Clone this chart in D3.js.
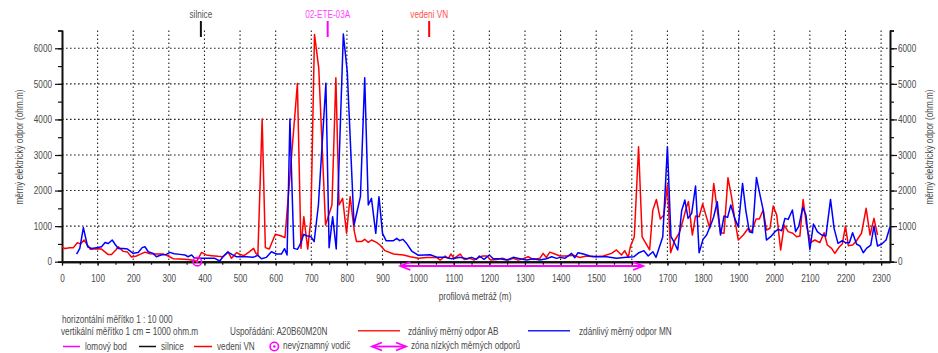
<!DOCTYPE html>
<html>
<head>
<meta charset="utf-8">
<script src="https://cdn.jsdelivr.net/npm/d3@7"></script>
<style>
  body { margin: 0; background: #fff; }
  text { font-family: 'Liberation Sans', Arial, sans-serif; }
</style>
</head>
<body>
<svg id="chart"></svg>
<script>
// zdánlivý měrný odpor AB (red) : [profilová metráž, ohm.m]
const abPoints = [[0,420],[8,370],[22,390],[32,395],[43,535],[52,500],[62,610],[69,500],[80,350],[102,365],[111,355],[130,200],[139,200],[151,330],[158,420],[172,290],[184,270],[195,130],[209,160],[219,205],[233,270],[247,225],[261,215],[284,215],[298,160],[312,85],[331,75],[354,65],[368,40],[378,10],[392,260],[405,190],[420,170],[438,150],[452,140],[466,280],[476,95],[490,255],[499,210],[511,170],[524,260],[538,375],[544,240],[550,190],[562,4010],[571,395],[582,355],[599,770],[614,730],[626,675],[661,5010],[671,375],[679,1265],[690,355],[699,1220],[709,6390],[721,5440],[740,1030],[758,1595],[769,5170],[778,1595],[788,1780],[799,800],[809,1830],[821,845],[827,565],[841,565],[850,630],[860,545],[869,610],[883,545],[893,470],[907,310],[931,215],[959,190],[978,140],[1001,95],[1024,120],[1052,120],[1062,45],[1076,160],[1085,95],[1092,215],[1101,95],[1118,215],[1129,65],[1146,95],[1157,45],[1170,120],[1181,160],[1193,160],[1204,45],[1221,65],[1237,95],[1253,45],[1267,95],[1281,45],[1295,85],[1309,140],[1323,65],[1342,95],[1351,235],[1360,120],[1370,270],[1384,215],[1398,160],[1417,160],[1436,180],[1454,120],[1473,160],[1492,140],[1520,160],[1543,235],[1557,330],[1571,190],[1580,310],[1590,120],[1596,425],[1607,700],[1619,3230],[1629,700],[1650,330],[1659,1450],[1669,1750],[1680,1200],[1690,1310],[1700,2160],[1709,250],[1721,610],[1733,800],[1744,1170],[1751,1450],[1759,1690],[1770,750],[1779,1285],[1789,1265],[1799,1620],[1808,1310],[1819,940],[1830,2200],[1840,1450],[1849,815],[1859,800],[1870,2360],[1880,1830],[1889,1200],[1899,610],[1913,750],[1927,940],[1936,845],[1949,1200],[1958,1200],[1969,1450],[1978,890],[1988,940],[1997,1565],[2007,1310],[2018,330],[2028,1030],[2039,845],[2052,800],[2063,700],[2072,720],[2081,1750],[2091,985],[2102,535],[2114,610],[2128,535],[2140,815],[2149,470],[2161,375],[2170,235],[2183,420],[2191,500],[2200,1000],[2208,450],[2220,470],[2231,590],[2245,800],[2258,1500],[2269,750],[2280,1220],[2290,750]];

// zdánlivý měrný odpor MN (blue)
const mnPoints = [[41,210],[50,375],[60,960],[72,420],[83,370],[97,395],[111,420],[121,540],[130,510],[141,610],[149,490],[158,370],[172,370],[184,355],[200,235],[214,260],[225,395],[233,420],[242,280],[256,234],[265,140],[278,190],[293,206],[303,262],[315,224],[331,206],[345,190],[354,140],[364,190],[371,112],[392,94],[410,94],[429,94],[443,19],[452,140],[466,270],[478,200],[490,140],[504,140],[518,140],[536,122],[550,178],[560,85],[574,122],[588,280],[602,216],[616,216],[625,366],[632,190],[640,4010],[651,375],[661,347],[668,470],[679,770],[687,730],[699,703],[708,563],[720,1594],[741,5016],[750,394],[760,1266],[770,356],[790,6400],[801,5344],[820,1031],[838,1828],[850,5175],[860,1594],[869,1781],[881,797],[890,1828],[900,797],[910,592],[931,592],[940,657],[948,592],[957,629],[966,535],[982,300],[1001,178],[1034,197],[1054,122],[1076,122],[1094,85],[1118,122],[1136,85],[1150,122],[1164,66],[1172,160],[1185,66],[1200,188],[1211,85],[1230,85],[1249,47],[1267,122],[1286,85],[1305,47],[1323,85],[1342,47],[1360,85],[1375,141],[1389,94],[1398,122],[1412,94],[1431,235],[1440,113],[1449,253],[1464,216],[1482,160],[1501,141],[1529,141],[1557,94],[1585,122],[1606,141],[1620,253],[1634,310],[1646,160],[1659,281],[1668,122],[1687,703],[1700,3230],[1710,703],[1718,562],[1729,328],[1740,1434],[1749,1733],[1758,1218],[1768,1359],[1779,2127],[1789,253],[1800,628],[1810,750],[1824,1096],[1830,1265],[1840,1687],[1849,750],[1859,1284],[1869,1246],[1878,1593],[1889,1218],[1899,984],[1911,2202],[1920,1452],[1930,843],[1939,815],[1950,2370],[1960,1874],[1969,1452],[1978,609],[1990,703],[2002,843],[2011,909],[2021,871],[2030,1218],[2039,1190],[2051,1452],[2060,843],[2069,1003],[2080,1527],[2089,1312],[2100,347],[2110,1059],[2121,843],[2133,750],[2145,721],[2158,1752],[2168,937],[2179,515],[2191,590],[2200,534],[2211,534],[2220,815],[2231,497],[2241,440],[2250,253],[2259,375],[2271,468],[2280,1003],[2290,440],[2302,497],[2314,609],[2325,984]];

const xMajorTicks = d3.range(0, 2301, 100);
const xMinorTicks = d3.range(0, 2326, 50);
const yMajorTicks = [0, 1000, 2000, 3000, 4000, 5000, 6000];
const yMinorTicks = d3.range(0, 6501, 500);

const markerLabels = ['silnice', '02-ETE-03A', 'vedeni VN'];
const markerAt = [390, 746, 1031];
const conductorAt = [380];
const lowZone = [950, 1632];

const xTitle = 'profilová metráž (m)';
const yTitle = 'měrný elektrický odpor (ohm.m)';

const W = 938, H = 353;
const margin = { top: 30.5, right: 48, bottom: 91.3, left: 62 };
const plotW = W - margin.left - margin.right;
const plotH = H - margin.top - margin.bottom;

const svg = d3.select('#chart').attr('width', W).attr('height', H);
svg.append('rect').attr('width', W).attr('height', H).attr('fill', '#fff');

const x = d3.scaleLinear().domain([0, 2325]).range([margin.left, margin.left + plotW]);
const y = d3.scaleLinear().domain([0, 6500]).range([margin.top + plotH, margin.top]);

const labelColor = '#4a4a4a';
const magenta = '#ff00ff';

// no narrow font installed -> squeeze Liberation Sans to Arial Narrow width
function narrow(sel) {
  sel.each(function () {
    const t = d3.select(this);
    const tx = +t.attr('x') || 0, ty = +t.attr('y') || 0;
    const prev = t.attr('transform') || '';
    t.attr('x', 0).attr('y', 0).attr('transform', `${prev} translate(${tx},${ty}) scale(0.82,1)`);
  });
}

// dotted grid
const grid = svg.append('g').attr('stroke', '#222').attr('stroke-width', 1.1).attr('stroke-dasharray', '1.6,2.4');
grid.selectAll('line.v').data(xMajorTicks.filter(d => d > 0)).join('line')
  .attr('x1', d => x(d)).attr('x2', d => x(d))
  .attr('y1', y(6500)).attr('y2', y(0));
grid.selectAll('line.h').data(yMajorTicks.filter(d => d > 0)).join('line')
  .attr('x1', x(0)).attr('x2', x(2325))
  .attr('y1', d => y(d)).attr('y2', d => y(d));

function styleAxis(g, width) {
  g.select('.domain').attr('stroke', '#111').attr('stroke-width', width);
  g.selectAll('.tick line').attr('stroke', '#111').attr('stroke-width', 1.2);
  g.selectAll('.tick text').attr('fill', labelColor).attr('font-size', 10)
    .attr('font-family', "'Liberation Sans',Arial,sans-serif").call(narrow);
}

// y axes
const yFmt = d3.format('d');
[['left', x(0), 3], ['right', x(2325), 1]].forEach(([side, px, pad]) => {
  const mk = side === 'left' ? d3.axisLeft : d3.axisRight;
  svg.append('g').attr('transform', `translate(${px},0)`)
    .call(mk(y).tickValues(yMinorTicks).tickSize(4).tickFormat(''))
    .call(g => styleAxis(g, 1.6));
  svg.append('g').attr('transform', `translate(${px},0)`)
    .call(mk(y).tickValues(yMajorTicks).tickSize(7).tickSizeOuter(0).tickPadding(pad).tickFormat(yFmt))
    .call(g => styleAxis(g, 1.6));
});

// x axis
svg.append('g').attr('transform', `translate(0,${y(0)})`)
  .call(d3.axisBottom(x).tickValues(xMinorTicks).tickSize(3).tickSizeOuter(0).tickFormat(''))
  .call(g => styleAxis(g, 2));
svg.append('g').attr('transform', `translate(0,${y(0)})`)
  .call(d3.axisBottom(x).tickValues(xMajorTicks).tickSize(4).tickSizeOuter(0).tickPadding(9).tickFormat(yFmt))
  .call(g => styleAxis(g, 2));

// axis titles
svg.append('text').attr('x', 475).attr('y', 297).attr('text-anchor', 'middle')
  .attr('dominant-baseline', 'central').attr('font-size', 10).attr('fill', labelColor).text(xTitle).call(narrow);
[20, 930].forEach(px => {
  svg.append('text').attr('transform', `translate(${px},147) rotate(-90)`)
    .attr('text-anchor', 'middle').attr('dominant-baseline', 'central')
    .attr('font-size', 10).attr('fill', labelColor).text(yTitle).call(narrow);
});

// series
const line = d3.line().x(d => x(d[0])).y(d => y(d[1]));
svg.append('path').datum(abPoints).attr('d', line)
  .attr('fill', 'none').attr('stroke', '#ff0000').attr('stroke-width', 1.5).attr('stroke-linejoin', 'round');
svg.append('path').datum(mnPoints).attr('d', line)
  .attr('fill', 'none').attr('stroke', '#0000ff').attr('stroke-width', 1.5).attr('stroke-linejoin', 'round');

// top markers
const markerStroke = ['#111', magenta, '#ff0000'];
const markerText = ['#555', '#ff44ff', '#ff5050'];
markerLabels.forEach((lab, i) => {
  svg.append('text').attr('x', x(markerAt[i])).attr('y', 15).attr('text-anchor', 'middle')
    .attr('dominant-baseline', 'central').attr('font-size', 10).attr('fill', markerText[i]).text(lab).call(narrow);
  svg.append('line').attr('x1', x(markerAt[i])).attr('x2', x(markerAt[i]))
    .attr('y1', 21).attr('y2', 37).attr('stroke', markerStroke[i]).attr('stroke-width', 2);
});

// conductor symbol
function conductor(g, cx, cy) {
  g.append('circle').attr('cx', cx).attr('cy', cy).attr('r', 4.2)
    .attr('fill', 'none').attr('stroke', magenta).attr('stroke-width', 1.6);
  g.append('circle').attr('cx', cx).attr('cy', cy).attr('r', 1.3).attr('fill', magenta);
}
conductorAt.forEach(d => conductor(svg, x(d), y(0)));

// double arrow
function dblArrow(g, x1, x2, cy) {
  g.append('line').attr('x1', x1 + 2).attr('x2', x2 - 2).attr('y1', cy).attr('y2', cy)
    .attr('stroke', magenta).attr('stroke-width', 1.8);
  g.append('path').attr('d', `M${x1 + 10},${cy - 4} L${x1},${cy} L${x1 + 10},${cy + 4}`)
    .attr('fill', 'none').attr('stroke', magenta).attr('stroke-width', 1.8);
  g.append('path').attr('d', `M${x2 - 10},${cy - 4} L${x2},${cy} L${x2 - 10},${cy + 4}`)
    .attr('fill', 'none').attr('stroke', magenta).attr('stroke-width', 1.8);
}
dblArrow(svg, x(lowZone[0]), x(lowZone[1]), 266);

// legend
const leg = svg.append('g').attr('font-size', 10).attr('fill', labelColor);
function legText(px, py, t) {
  leg.append('text').attr('x', px).attr('y', py).attr('dominant-baseline', 'central').text(t).call(narrow);
}
function legLine(x1, x2, py, color) {
  leg.append('line').attr('x1', x1).attr('x2', x2).attr('y1', py).attr('y2', py)
    .attr('stroke', color).attr('stroke-width', 1.5);
}
legText(62, 320, 'horizontální měřítko 1 : 10 000');
legText(61, 331.5, 'vertikální měřítko 1 cm = 1000 ohm.m');
legText(230, 331.5, 'Uspořádání: A20B60M20N');
legLine(358, 400, 330.7, '#ff2020');
legText(408, 331.5, 'zdánlivý měrný odpor AB');
legLine(528, 570, 330.7, '#2020ff');
legText(579, 331.5, 'zdánlivý měrný odpor MN');

legLine(63, 80, 346.5, magenta);
legText(85, 347, 'lomový bod');
legLine(139, 156, 346.5, '#111');
legText(161, 347, 'silnice');
legLine(194, 212, 346.5, '#ff0000');
legText(217, 347, 'vedeni VN');
conductor(leg, 274.3, 346.5);
legText(283, 346, 'nevýznamný vodič');
dblArrow(leg, 372, 406, 346.5);
legText(411, 345.5, 'zóna nízkých měrných odporů');
</script>
</body>
</html>
